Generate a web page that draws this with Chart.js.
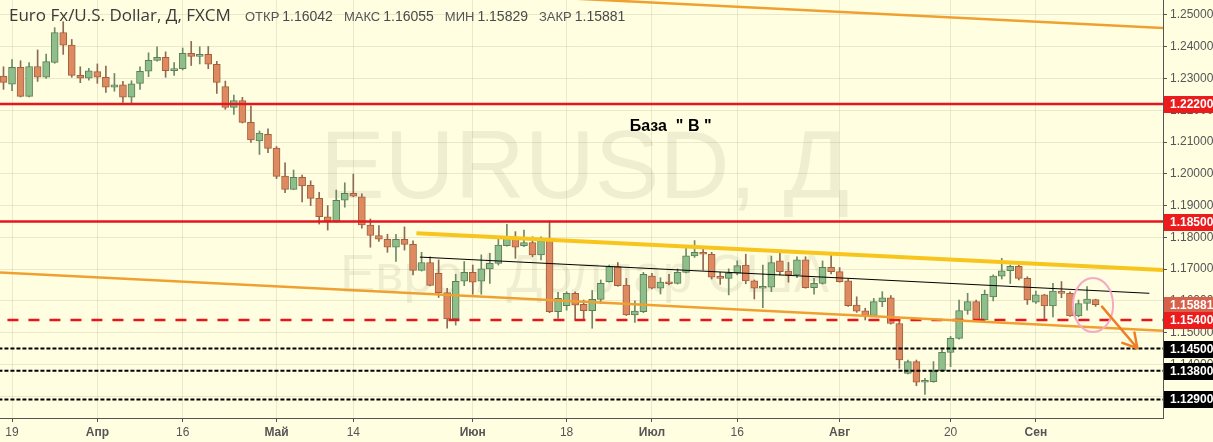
<!DOCTYPE html>
<html>
<head>
<meta charset="utf-8">
<script src="https://cdn.jsdelivr.net/npm/chart.js@4.4.1/dist/chart.umd.min.js"></script>
<style>
  html, body { margin: 0; padding: 0; background: #FFFEE1; }
  #wrap { width: 1213px; height: 442px; position: relative; }
</style>
</head>
<body>
<div id="wrap"><canvas id="chart"></canvas></div>
<script>
// daily candles, EUR/USD FXCM, 16 Mar .. 12 Sep (index = trading day)
const opens = [1.2308,1.2282,1.2335,1.2244,1.2338,1.2304,1.2351,1.2445,1.2405,1.2310,
  1.2301,1.2322,1.2304,1.2273,1.2280,1.2241,1.2285,1.2323,1.2357,1.2367,
  1.2325,1.2331,1.2379,1.2370,1.2376,1.2345,1.2275,1.2209,1.2231,1.2162,
  1.2104,1.2124,1.2081,1.1993,1.1951,1.1989,1.1964,1.1923,1.1865,1.1851,
  1.1917,1.1939,1.1928,1.1839,1.1806,1.1794,1.1769,1.1794,1.1778,1.1696,
  1.1721,1.1687,1.1626,1.1543,1.1662,1.1690,1.1662,1.1701,1.1718,1.1774,
  1.1797,1.1774,1.1784,1.1745,1.1790,1.1566,1.1585,1.1624,1.1589,1.1569,
  1.1605,1.1661,1.1708,1.1650,1.1556,1.1566,1.1678,1.1640,1.1659,1.1655,
  1.1690,1.1742,1.1753,1.1747,1.1677,1.1671,1.1687,1.1713,1.1663,1.1640,
  1.1643,1.1726,1.1694,1.1682,1.1729,1.1642,1.1655,1.1706,1.1692,1.1663,
  1.1587,1.1569,1.1554,1.1598,1.1610,1.1529,1.1372,1.1409,1.1344,1.1346,
  1.1380,1.1438,1.1482,1.1570,1.1598,1.1540,1.1613,1.1678,1.1695,1.1709,
  1.1671,1.1596,1.1619,1.1584,1.1629,1.1624,1.1553,1.1592,1.16042];
const highs = [1.2337,1.2360,1.2356,1.2350,1.2390,1.2377,1.2460,1.2479,1.2423,1.2337,
  1.2332,1.2346,1.2339,1.2316,1.2291,1.2293,1.2337,1.2381,1.2400,1.2384,
  1.2350,1.2396,1.2417,1.2400,1.2401,1.2354,1.2292,1.2248,1.2241,1.2214,
  1.2135,1.2142,1.2086,1.2035,1.2012,1.1996,1.1978,1.1942,1.1900,1.1949,
  1.1972,1.1999,1.1937,1.1858,1.1837,1.1810,1.1810,1.1833,1.1789,1.1753,
  1.1739,1.1729,1.1640,1.1684,1.1724,1.1713,1.1745,1.1750,1.1797,1.1841,
  1.1818,1.1823,1.1802,1.1802,1.1852,1.1627,1.1629,1.1629,1.1603,1.1633,
  1.1666,1.1713,1.1721,1.1671,1.1600,1.1690,1.1687,1.1673,1.1684,1.1701,
  1.1774,1.1790,1.1768,1.1753,1.1690,1.1701,1.1726,1.1747,1.1666,1.1713,
  1.1741,1.1752,1.1721,1.1739,1.1739,1.1671,1.1726,1.1745,1.1705,1.1669,
  1.1613,1.1577,1.1608,1.1629,1.1617,1.1540,1.1414,1.1414,1.1356,1.1409,
  1.1446,1.1488,1.1603,1.1624,1.1603,1.1634,1.1682,1.1734,1.1713,1.1713,
  1.1676,1.1631,1.1621,1.1655,1.1661,1.1629,1.1603,1.1645,1.16055];
const lows = [1.2266,1.2262,1.2242,1.2242,1.2291,1.2300,1.2348,1.2376,1.2304,1.2287,
  1.2295,1.2285,1.2256,1.2260,1.2225,1.2220,1.2266,1.2306,1.2355,1.2304,
  1.2310,1.2327,1.2341,1.2346,1.2331,1.2253,1.2203,1.2187,1.2160,1.2099,
  1.2061,1.2067,1.1985,1.1941,1.1950,1.1912,1.1900,1.1842,1.1823,1.1848,
  1.1895,1.1928,1.1829,1.1769,1.1787,1.1753,1.1724,1.1760,1.1682,1.1694,
  1.1647,1.1611,1.1514,1.1524,1.1648,1.1621,1.1621,1.1655,1.1713,1.1772,
  1.1734,1.1771,1.1739,1.1729,1.1563,1.1545,1.1571,1.1543,1.1543,1.1514,
  1.1592,1.1659,1.1646,1.1554,1.1532,1.1563,1.1638,1.1622,1.1650,1.1653,
  1.1688,1.1737,1.1697,1.1669,1.1652,1.1619,1.1682,1.1654,1.1606,1.1579,
  1.1629,1.1682,1.1659,1.1673,1.1640,1.1621,1.1653,1.1685,1.1659,1.1583,
  1.1564,1.1540,1.1552,1.1582,1.1527,1.1388,1.1370,1.1333,1.1306,1.1344,
  1.1377,1.1393,1.1480,1.1558,1.1538,1.1538,1.1600,1.1669,1.1655,1.1666,
  1.1589,1.1592,1.1540,1.1550,1.1610,1.1551,1.1550,1.1571,1.15829];
const closes = [1.2288,1.2335,1.2244,1.2338,1.2304,1.2353,1.2445,1.2405,1.2310,1.2301,
  1.2324,1.2304,1.2273,1.2280,1.2241,1.2283,1.2323,1.2357,1.2367,1.2325,
  1.2329,1.2379,1.2370,1.2376,1.2345,1.2288,1.2209,1.2231,1.2162,1.2107,
  1.2128,1.2080,1.1992,1.1951,1.1989,1.1962,1.1923,1.1865,1.1852,1.1917,
  1.1939,1.1930,1.1839,1.1806,1.1794,1.1769,1.1794,1.1778,1.1696,1.1721,
  1.1649,1.1626,1.1543,1.1662,1.1690,1.1659,1.1701,1.1718,1.1776,1.1797,
  1.1769,1.1784,1.1745,1.1790,1.1566,1.1608,1.1624,1.1587,1.1569,1.1605,
  1.1655,1.1708,1.1648,1.1556,1.1568,1.1684,1.1640,1.1659,1.1654,1.1690,
  1.1742,1.1753,1.1747,1.1675,1.1671,1.1687,1.1711,1.1663,1.1640,1.1644,
  1.1721,1.1692,1.1682,1.1729,1.1642,1.1655,1.1706,1.1692,1.1661,1.1585,
  1.1568,1.1554,1.1598,1.1610,1.1529,1.1414,1.1409,1.1344,1.1348,1.1380,
  1.1438,1.1482,1.1570,1.1598,1.1540,1.1621,1.1678,1.1695,1.1709,1.1671,
  1.1603,1.1619,1.1584,1.1631,1.1624,1.1553,1.1592,1.1606,1.15881];

const tickIndex  = [1, 11, 21, 32, 41, 55, 66, 76, 86, 98, 111, 121];
const tickLabels = ['19', 'Апр', '16', 'Май', '14', 'Июн', '18', 'Июл', '16', 'Авг', '20', 'Сен'];
const monthLabels = ['Апр', 'Май', 'Июн', 'Июл', 'Авг', 'Сен'];
const priceTicks = [1.13, 1.14, 1.15, 1.16, 1.17, 1.18, 1.19, 1.20, 1.21, 1.22, 1.23, 1.24, 1.25];

// drawn levels
const redLevels = [1.222, 1.185];
const redDashLevels = [1.154];
const dottedLevels = [1.145, 1.138, 1.129];
// trend lines [index, price]
const upperOrange = [[65, 1.2554], [136, 1.2459]];
const lowerOrange = [[-1, 1.1690], [136, 1.1506]];
const goldLine = [[48.4, 1.1813], [135.9, 1.1697]];
const blackTrend = [[48.8, 1.1738], [134.3, 1.1624]];
const arrowFrom = [128.75, 1.1582];
const arrowTo = [132.9, 1.1451];
const circleMark = [127.7, 1.1587, 2.35, 0.0085]; // x, y, rx (days), ry (price)
const noteText = 'База  " В "';
const notePos = [73.4, 1.2136];
const priceTags = [1.222, 1.185, 1.15881, 1.154, 1.145, 1.138, 1.129];
const priceTagColors = ['#EC1C1C', '#EC1C1C', '#D6604A', '#EC1C1C', '#000000', '#000000', '#000000'];

const FONT = '"Liberation Sans", Arial, sans-serif';
const HEAD_FONT = '"Open Sans", "Liberation Sans", sans-serif';
const gridColor = 'rgba(150,150,105,0.20)';
const last = opens.length - 1;
const idx = opens.map((_, i) => i);
const up = i => closes[i] >= opens[i];

function lineDs(pts, color, width, dash, order) {
  return {
    type: 'line', data: pts.map(p => ({ x: p[0], y: p[1] })),
    borderColor: color, borderWidth: width, borderDash: dash || [],
    pointRadius: 0, fill: false, tension: 0, order: order
  };
}
function levelDs(v, color, width, dash, order) {
  return lineDs([[-2, v], [140, v]], color, width, dash, order);
}

const bgPlugin = {
  id: 'bg',
  beforeDraw(chart) {
    const c = chart.ctx;
    c.save();
    c.fillStyle = '#FFFEE1';
    c.fillRect(0, 0, chart.width, chart.height);
    c.restore();
  },
  beforeDatasetsDraw(chart) {
    const c = chart.ctx, a = chart.chartArea;
    c.save();
    c.beginPath(); c.rect(a.left, a.top, a.right - a.left, a.bottom - a.top); c.clip();
    c.fillStyle = 'rgba(120,125,90,0.12)';
    c.textAlign = 'center';
    c.textBaseline = 'alphabetic';
    const cx = (a.left + a.right) / 2 + 3;
    c.font = '97px ' + FONT;
    c.fillText('EURUSD, Д', cx, 198);
    c.font = '53px ' + FONT;
    c.fillText('Евро / Доллар США', cx, 292);
    c.restore();
  }
};

const marksPlugin = {
  id: 'marks',
  afterDatasetsDraw(chart) {
    const c = chart.ctx, xs = chart.scales.x, ys = chart.scales.y, a = chart.chartArea;
    c.save();
    c.beginPath(); c.rect(a.left, a.top, a.right - a.left, a.bottom - a.top); c.clip();
    // pink circle
    const ex = xs.getPixelForValue(circleMark[0]), ey = ys.getPixelForValue(circleMark[1]);
    const erx = xs.getPixelForValue(circleMark[0] + circleMark[2]) - ex;
    const ery = ys.getPixelForValue(circleMark[1] - circleMark[3]) - ey;
    c.strokeStyle = '#F6A8C4'; c.lineWidth = 2;
    c.beginPath(); c.ellipse(ex, ey, erx, ery, 0, 0, Math.PI * 2); c.stroke();
    // arrow
    const x1 = xs.getPixelForValue(arrowFrom[0]), y1 = ys.getPixelForValue(arrowFrom[1]);
    const x2 = xs.getPixelForValue(arrowTo[0]), y2 = ys.getPixelForValue(arrowTo[1]);
    const ang = Math.atan2(y2 - y1, x2 - x1);
    c.strokeStyle = '#EF7E24'; c.lineWidth = 2.5; c.lineCap = 'round';
    c.beginPath(); c.moveTo(x1, y1); c.lineTo(x2, y2);
    [-0.52, 0.52].forEach(d => {
      c.moveTo(x2, y2);
      c.lineTo(x2 - 16 * Math.cos(ang + d), y2 - 16 * Math.sin(ang + d));
    });
    c.stroke();
    // note
    c.fillStyle = '#000';
    c.font = 'bold 16px ' + FONT;
    c.textAlign = 'left'; c.textBaseline = 'alphabetic';
    c.fillText(noteText, xs.getPixelForValue(notePos[0]), ys.getPixelForValue(notePos[1]));
    c.restore();
  },
  afterDraw(chart) {
    const c = chart.ctx, ys = chart.scales.y, a = chart.chartArea;
    c.save();
    priceTags.forEach((v, k) => {
      const py = Math.round(ys.getPixelForValue(v));
      c.fillStyle = priceTagColors[k];
      c.fillRect(a.right + 1, py - 8, chart.width - a.right - 1, 17);
      c.fillStyle = '#fff';
      c.font = 'bold 12px ' + FONT;
      c.textAlign = 'left'; c.textBaseline = 'middle';
      c.fillText(v.toFixed(5), a.right + 7, py + 1);
    });
    // header
    c.textBaseline = 'alphabetic';
    c.fillStyle = '#3a3a3a';
    c.font = '17px ' + HEAD_FONT;
    c.fillText('Euro Fx/U.S. Dollar, Д, FXCM', 9, 21);
    const parts = [['ОТКР', opens[last]], ['МАКС', highs[last]], ['МИН', lows[last]], ['ЗАКР', closes[last]]];
    let x = 245;
    parts.forEach(p => {
      c.font = '13px ' + FONT; c.fillStyle = '#555';
      c.fillText(p[0], x, 21); x += c.measureText(p[0]).width + 3;
      c.font = '14px ' + FONT; c.fillStyle = '#4a4a4a';
      const t = p[1].toFixed(5);
      c.fillText(t, x, 21); x += c.measureText(t).width + 11;
    });
    c.restore();
  }
};

new Chart(document.getElementById('chart'), {
  type: 'bar',
  data: {
    datasets: [
      {
        type: 'bar', data: idx.map(i => ({ x: i, y: [lows[i], highs[i]] })),
        backgroundColor: idx.map(i => up(i) ? '#6E8A68' : '#8E6A55'),
        borderWidth: 0, barThickness: 1, grouped: false, order: 30
      },
      {
        type: 'bar', data: idx.map(i => ({ x: i, y: [opens[i], closes[i]] })),
        backgroundColor: idx.map(i => up(i) ? '#8EBE8A' : '#DD8A61'),
        borderColor: idx.map(i => up(i) ? '#5C7F57' : '#A2603F'),
        borderWidth: 1, borderSkipped: false, barThickness: 7, minBarLength: 2,
        grouped: false, order: 29
      },
      ...redLevels.map(v => levelDs(v, '#E5161C', 2.5, null, 5)),
      ...redDashLevels.map(v => levelDs(v, '#E5161C', 2.5, [11, 10], 5)),
      ...dottedLevels.map(v => levelDs(v, '#000000', 2, [4, 2], 5)),
      lineDs(upperOrange, '#F0A030', 2.5, null, 4),
      lineDs(lowerOrange, '#F0A030', 2.5, null, 4),
      lineDs(goldLine, '#F7C51C', 4, null, 3),
      lineDs(blackTrend, '#000000', 1, null, 2)
    ]
  },
  options: {
    responsive: true,
    maintainAspectRatio: false,
    animation: false,
    layout: { padding: 0 },
    plugins: { legend: { display: false }, tooltip: { enabled: false } },
    scales: {
      x: {
        type: 'linear', min: -0.41, max: 135.9, offset: false,
        afterBuildTicks: s => { s.ticks = tickIndex.map(v => ({ value: v })); },
        afterFit: s => { s.height = 24; s.paddingLeft = 0; s.paddingRight = 0; },
        ticks: {
          autoSkip: false, maxRotation: 0, padding: 3, color: '#555',
          callback: v => tickLabels[tickIndex.indexOf(v)],
          font: ctx => ({ size: 12, family: FONT,
            weight: ctx.tick && monthLabels.includes(ctx.tick.label) ? 'bold' : 'normal' })
        },
        grid: { color: gridColor, tickColor: '#555', tickLength: 4, offset: false },
        border: { color: '#555', width: 1 }
      },
      y: {
        type: 'linear', position: 'right', min: 1.12315, max: 1.25472,
        afterBuildTicks: s => { s.ticks = priceTicks.map(v => ({ value: v })); },
        afterFit: s => { s.width = 50; s.paddingTop = 0; s.paddingBottom = 0; },
        ticks: { color: '#555', padding: 3, font: { size: 12, family: FONT },
          callback: v => v.toFixed(5) },
        grid: { color: gridColor, tickColor: '#555', tickLength: 4 },
        border: { color: '#555', width: 1 }
      }
    }
  },
  plugins: [bgPlugin, marksPlugin]
});
</script>
</body>
</html>
